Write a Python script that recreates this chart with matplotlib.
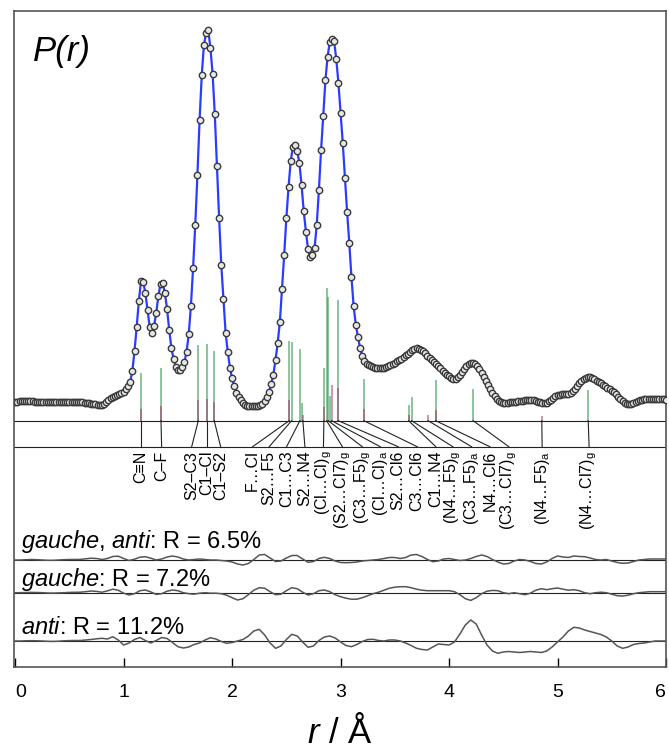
import numpy as np
import matplotlib.pyplot as plt

plt.rcParams['font.family'] = ['Liberation Sans', 'DejaVu Sans']
plt.rcParams['mathtext.fontset'] = 'custom'
plt.rcParams['mathtext.rm'] = 'Liberation Sans'
plt.rcParams['mathtext.it'] = 'Liberation Sans:italic'

# experimental radial distribution, step 0.02 A (arbitrary units)
r_exp = np.linspace(0, 6, 301)
p_exp = [
    3.5, 3.5, 3.7, 3.8, 4.0, 4.0, 4.0, 3.8, 3.7, 3.5,
    3.5, 3.5, 3.5, 3.5, 3.5, 3.5, 3.4, 3.3, 3.2, 3.2,
    3.2, 3.1, 3.0, 3.0, 3.0, 3.0, 3.0, 3.0, 3.0, 3.0,
    3.0, 2.7, 2.5, 2.2, 1.9, 1.5, 1.1, 0.7, 0.3, 0.0,
    0.2, 1.5, 3.5, 5.5, 7.0, 8.0, 9.0, 10.0, 11.0, 12.0,
    13.5, 16, 19, 23, 34, 54, 78, 104, 124, 123.5,
    112, 95, 78, 72, 79, 92, 109, 121, 122, 112,
    96, 75, 57, 46, 38, 35, 35.5, 38.5, 43, 53,
    71, 99, 137, 180, 230, 285, 330, 360, 372, 375,
    357, 331, 291, 239, 187, 140, 106, 72, 53, 37,
    27, 19, 12.5, 8, 4.7, 2, 0.5, -0.5, -1, -1,
    -1, -1, -1, -0.3, 1.3, 4.5, 8.5, 13, 21, 30.5,
    45, 62, 83, 116, 150, 187, 218, 244, 258, 260.5,
    254, 242, 220, 194, 173.5, 156, 148, 150, 157, 180,
    215, 255, 289, 325, 348, 363, 366.5, 364, 346, 322,
    292, 262, 227, 193, 162, 128, 99, 80.5, 68, 57,
    49, 44.5, 41.5, 39.8, 38.7, 37.8, 37.3, 37, 36.7, 36.8,
    37.5, 38.1, 39, 40, 41.2, 42.3, 43.7, 45, 46.5, 48.2,
    50, 51.5, 53.5, 55.2, 56.3, 56.7, 56.4, 55.5, 54, 52,
    49.5, 47.3, 45.3, 43.2, 41, 38.8, 36.6, 34.4, 32.2, 30.2,
    28.7, 27.4, 26.2, 26.5, 28.2, 30.2, 33, 36.2, 38.8, 40.8,
    41.6, 41.8, 41, 39, 36, 32.2, 28.5, 24.3, 20, 16,
    12.5, 9.2, 6.5, 4.3, 2.8, 1.8, 1.8, 2.4, 2.8, 3,
    3.2, 3.4, 3.7, 4, 4.4, 4.7, 4.9, 5, 4.8, 4.6,
    4.3, 3.5, 2.6, 2, 1.7, 2.2, 3.7, 5.2, 7, 8.7,
    9.7, 10.4, 10.9, 11, 11, 11, 12, 14, 16.2, 19.2,
    22.1, 24.3, 26.2, 27.2, 27.6, 27.6, 26.6, 25.7, 24.4, 23,
    21.8, 20.4, 18.8, 17.4, 15.8, 14.2, 12.7, 10.8, 8.4, 6.2,
    4.4, 2.5, 1.5, 1.2, 1.1, 2, 3, 3.8, 4.6, 5.4,
    5.8, 6, 6.1, 6.2, 6.3, 6.3, 6.2, 6.1, 6, 5.7,
    5.4,
]

# difference curves, step 0.05 A
r_res = np.linspace(0, 6, 121)
res_ga = [
    0, 0, 0.3, 0.5, 0.3, 0, -0.3, -0.3, 0, 0.3,
    0.5, 0.5, 0.6, 1.2, 1.8, 1.5, 0.5, 1.5, 3.5, 3.8,
    1.5, -0.5, 0.8, 2.8, 3.3, 1.8, 0, 1, 3, 4,
    3, 1, 0, 0.5, 1, 0.5, 0, 0, -0.5, -1,
    -2, -4, -5, -3.5, 0.5, 5, 5.5, 2, -1.5, -1,
    2, 4.5, 4.5, 1, -2.3, -1.5, 1.5, 2.7, 1.5, -1,
    -2.5, -2.7, -2.5, -2, -1, -0.5, 0, 0.5, 1.5, 2.5,
    2.5, 1.5, 2.5, 5, 5.5, 3.5, 0.5, -1.7, -1, 1,
    1.5, 0.5, -0.5, 0, 1.5, 3.5, 5, 3.5, 0.5, -2,
    -4, -3.5, -1, 0.5, 0, -1.5, -3.5, -4, -2, 1.5,
    4, 3, 2.5, 4, 3.5, 3.3, 2, 0.5, 0, 0.5,
    -1, -2.5, -3.3, -3, -1.5, 0, 0.5, 1, 1, 1,
    1,
]
res_g = [
    0, 0, 0.2, 0.3, 0.2, 0, -0.3, -0.4, -0.2, 0,
    0.3, 0.4, 0.5, 1, 1.7, 1.3, 0.5, 1.8, 3.5, 2.5,
    -0.5, -2.3, -1, 2, 2.7, 0.8, -1.7, -1, 1.5, 2.7,
    2, 0, -1, -1.5, -0.5, 0, -0.5, -0.5, -1, -2.5,
    -5, -7.3, -6, -2, 2.5, 5, 4.5, 1, -2, -1.5,
    2, 5, 4, 0.5, -2.3, -1, 2, 2.7, 1, -2,
    -4, -5.5, -6.5, -6.5, -5, -3, -1, 0.5, 2.5, 4.5,
    5.5, 6, 6, 5, 3.5, 2.5, 2, 2, 2, 2,
    2, 1, -2, -6, -7.7, -5, -1, 1.5, 2.3, 2,
    0, -1, 0, -1, -2, -0.5, 2.5, 4, 3, 4,
    4.7, 3.5, 2.5, 3, 2, 0, -1, 0, 0.5, 0,
    -1.5, -3, -3.3, -2.5, -1, 0, 0.5, 1, 1, 1,
    1,
]
res_a = [
    0, 0, 0.2, 0.3, 0.2, 0, -0.3, -0.4, -0.2, 0.2,
    0.4, 0.5, 0.5, 1, 1.5, 2.2, 2.7, 2, 4.3, 1,
    -4, -2, 1.5, 3.5, 0.5, -2, 0.5, 3.5, 2.5, -1.5,
    -5.7, -7, -6, -3.5, -2, 1, 3.3, 2, -0.5, -2.3,
    -1.5, 0, 1.5, 5, 10, 11.7, 6, -2, -7.3, -5,
    1.5, 6.7, 5, -1, -6.3, -5, 0.5, 4, 5, 3,
    -1, -4.5, -5.7, -3.5, -0.5, 1.5, 1.7, 0.5, 0, 1,
    1, 0, -2, -4.5, -7.3, -8.5, -9, -6, -3, -3.5,
    -4, -1, 7, 16, 21, 17, 6, -4, -10, -12.3,
    -11, -10.5, -11, -11.5, -11, -10.5, -11, -11.5, -10, -6,
    -1, 4, 10, 13.7, 13, 11, 9.5, 8, 6.5, 4,
    0, -5, -7.3, -6, -3.5, -2.5, -2, -1, 0, 0,
    0,
]
res_names = [r'$\it{gauche}$, $\it{anti}$: R = 6.5%',
             r'$\it{gauche}$: R = 7.2%',
             r'$\it{anti}$: R = 11.2%']

# interatomic distances (gauche = green, anti = pink)
stick_g_r = [1.159, 1.344, 1.688, 1.765, 1.835, 2.526, 2.548, 2.625, 2.648, 2.846,
             2.871, 2.886, 2.901, 2.978, 3.215, 3.627, 3.654, 3.876, 4.222, 5.283]
stick_g_h = [48, 53, 75.5, 77, 69.5, 80, 79, 72, 18, 52.5,
             133, 124, 25, 120.5, 42, 15.5, 23.5, 41, 32, 30.5]
stick_a_r = [1.159, 1.344, 1.688, 1.765, 1.835, 2.526, 2.655, 2.846, 2.917, 2.978,
             3.215, 3.627, 3.807, 3.876, 4.855]
stick_a_h = [12, 15, 20.5, 22, 19, 20.5, 5.5, 14, 35.5, 32.5,
             11.5, 5.5, 5.5, 11, 5]

labels = ['C≡N', 'C–F', 'S2–C3', 'C1–Cl', 'C1–S2', 'F…Cl', 'S2…F5', 'C1…C3', 'S2…N4',
          r'(Cl…Cl)$_\mathrm{g}$', r'(S2…Cl7)$_\mathrm{g}$', r'(C3…F5)$_\mathrm{g}$',
          r'(Cl…Cl)$_\mathrm{a}$', 'S2…Cl6', 'C3…Cl6', 'C1…N4', r'(N4…F5)$_\mathrm{g}$',
          r'(C3…F5)$_\mathrm{a}$', 'N4…Cl6', r'(C3…Cl7)$_\mathrm{g}$',
          r'(N4…F5)$_\mathrm{a}$', r'(N4…Cl7)$_\mathrm{g}$']
label_from = [1.159, 1.344, 1.688, 1.765, 1.835, 2.526, 2.548, 2.625, 2.652, 2.846, 2.871,
              2.886, 2.917, 2.978, 3.215, 3.627, 3.654, 3.807, 3.876, 4.222, 4.855, 5.283]
label_at = [1.159, 1.350, 1.627, 1.765, 1.894, 2.189, 2.342, 2.502, 2.671, 2.842, 3.016,
            3.200, 3.366, 3.531, 3.706, 3.878, 4.035, 4.207, 4.376, 4.551, 4.858, 5.291]

# vertical layout levels
stick_base = -15.7
label_line = -41.7
res_base = [-155, -187.7, -236]
res_text = [-143, -181, -229]

fig = plt.figure(figsize=(6.69, 7.52), dpi=100)
ax = fig.add_axes([14/669, 85/752, 652/669, 656/752])
ax.set_xlim(-0.011, 6.0)
ax.set_ylim(-262, 394)

ax.plot(r_exp, p_exp, color='#2a3cff', lw=1.6, zorder=3)
ax.plot(r_exp, p_exp, 'o', ls='none', ms=4.6, mfc='#e6e6e6', mec='#3a3a3a', mew=1.0, zorder=4)

ax.vlines(stick_g_r, stick_base, stick_base + np.array(stick_g_h),
          colors='#3d9f58', alpha=0.7, lw=1.2, zorder=2)
ax.vlines(stick_a_r, stick_base, stick_base + np.array(stick_a_h),
          colors='#a3306a', alpha=0.6, lw=1.2, zorder=2)

ax.axhline(stick_base, color='#222222', lw=0.8)
ax.axhline(label_line, color='#222222', lw=0.8)
for a, b, lab in zip(label_from, label_at, labels):
    ax.plot([a, b], [stick_base, label_line], color='#222222', lw=0.8)
    ax.text(b, label_line - 4, lab, rotation=90, ha='center', va='top', fontsize=11.5)

for base, tb, res, name in zip(res_base, res_text, [res_ga, res_g, res_a], res_names):
    ax.axhline(base, color='#222222', lw=0.8)
    ax.plot(r_res, base + np.array(res), color='#555555', lw=1.1)
    ax.text(0.051, tb, name, fontsize=17, ha='left', va='baseline')

ax.text(0.029, 0.939, 'P(r)', transform=ax.transAxes, fontsize=25, style='italic',
        ha='left', va='center')

for s in ax.spines.values():
    s.set_color('#555555')
    s.set_linewidth(1.2)
ax.set_yticks([])
ax.set_xticks(range(7))
ax.tick_params(axis='x', direction='in', length=6.5, width=1, labelsize=14, pad=12)
xt = ax.get_xticklabels()
xt[0].set_horizontalalignment('left')
xt[-1].set_horizontalalignment('right')
ax.set_xlabel(r'$r$ / Å', fontsize=25, labelpad=10)

fig.savefig('out.png', dpi=100)
